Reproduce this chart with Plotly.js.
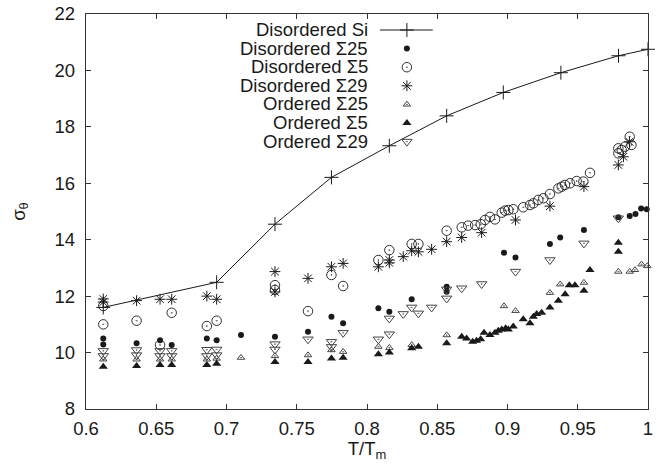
<!DOCTYPE html>
<html>
<head>
<meta charset="utf-8">
<script src="https://cdn.plot.ly/plotly-3.0.1.min.js"></script>
<style>html,body{margin:0;padding:0;background:#fff;}#chart{width:672px;height:470px;}</style>
</head>
<body>
<div id="chart"></div>
<script>
// ---- Data (T/Tm , sigma_theta) ----
const seriesNames = ["Disordered Si", "Disordered \u03a325", "Disordered \u03a35", "Disordered \u03a329", "Ordered \u03a325", "Ordered \u03a35", "Ordered \u03a329"];

const disSiT = [0.6123, 0.693, 0.7345, 0.7747, 0.8159, 0.8567, 0.897, 0.938, 0.979, 1.0];
const disSiS = [11.6, 12.49, 14.55, 16.21, 17.33, 18.39, 19.22, 19.92, 20.52, 20.75];

const dis25T = [0.6123, 0.6123, 0.636, 0.6527, 0.661, 0.686, 0.693, 0.7103, 0.7345, 0.758, 0.7747, 0.783, 0.8081, 0.8159, 0.8318, 0.8567, 0.8567, 0.8975, 0.9057, 0.9302, 0.9375, 0.9544, 0.9789, 0.987, 0.9911, 0.9951, 0.9991];
const dis25S = [10.5, 10.29, 10.33, 10.44, 10.27, 10.5, 10.44, 10.62, 10.56, 10.74, 11.27, 11.04, 11.57, 11.45, 11.89, 12.33, 12.16, 13.54, 13.37, 13.85, 14.08, 14.34, 14.8, 14.84, 14.91, 15.11, 15.08];

const dis5T = [0.6123, 0.6123, 0.636, 0.6527, 0.661, 0.686, 0.693, 0.7345, 0.7345, 0.758, 0.7747, 0.783, 0.8081, 0.8159, 0.8318, 0.8366, 0.8567, 0.8674, 0.872, 0.877, 0.881, 0.884, 0.8875, 0.8911, 0.8959, 0.8982, 0.9006, 0.9041, 0.9112, 0.916, 0.9184, 0.9219, 0.9255, 0.9302, 0.9362, 0.9386, 0.9409, 0.9445, 0.9492, 0.954, 0.9587, 0.9789, 0.9789, 0.9813, 0.9837, 0.987, 0.9882];
const dis5S = [11.65, 11.0, 11.13, 10.27, 11.41, 10.94, 11.13, 12.39, 12.22, 11.47, 12.75, 12.36, 13.28, 13.63, 13.85, 13.85, 14.32, 14.44, 14.5, 14.52, 14.55, 14.7, 14.81, 14.72, 14.96, 15.03, 15.05, 15.08, 15.15, 15.23, 15.29, 15.41, 15.47, 15.62, 15.82, 15.88, 15.94, 16.0, 16.08, 16.06, 16.37, 17.24, 17.06, 17.18, 17.3, 17.65, 17.36];

const dis29T = [0.6123, 0.6123, 0.636, 0.6527, 0.661, 0.686, 0.693, 0.7345, 0.7345, 0.758, 0.7747, 0.783, 0.8081, 0.8159, 0.8159, 0.8258, 0.8318, 0.8366, 0.846, 0.8567, 0.8674, 0.8816, 0.9057, 0.9302, 0.9544, 0.9789, 0.9825, 0.9868];
const dis29S = [11.9, 11.79, 11.84, 11.89, 11.89, 12.0, 11.89, 12.87, 12.15, 12.63, 13.04, 13.16, 13.04, 13.28, 13.18, 13.4, 13.61, 13.57, 13.66, 13.93, 14.08, 14.25, 14.7, 15.19, 15.88, 16.65, 16.94, 17.47];

const ord25T = [0.6123, 0.636, 0.6527, 0.661, 0.686, 0.693, 0.7103, 0.7345, 0.758, 0.7747, 0.783, 0.8081, 0.8159, 0.8318, 0.8567, 0.8975, 0.9057, 0.9302, 0.9375, 0.9544, 0.9789, 0.987, 0.9907, 0.9954, 0.9995];
const ord25S = [9.76, 9.76, 9.76, 9.76, 9.76, 9.79, 9.82, 9.88, 9.91, 10.09, 10.03, 10.21, 10.17, 10.27, 10.62, 11.65, 11.48, 12.12, 12.42, 12.48, 12.87, 12.87, 12.93, 13.13, 13.07];

const ord5T = [0.6123, 0.636, 0.6527, 0.661, 0.686, 0.693, 0.7345, 0.758, 0.7747, 0.783, 0.8081, 0.8159, 0.8318, 0.8366, 0.8567, 0.8674, 0.8709, 0.8752, 0.878, 0.8809, 0.8833, 0.8875, 0.8911, 0.8935, 0.8959, 0.8987, 0.9006, 0.9041, 0.9112, 0.916, 0.9184, 0.9208, 0.9243, 0.9302, 0.9362, 0.941, 0.944, 0.948, 0.9544, 0.9587, 0.9789, 0.9789];
const ord5S = [9.5, 9.52, 9.56, 9.56, 9.56, 9.6, 9.67, 9.67, 9.79, 9.82, 9.94, 10.0, 10.15, 10.21, 10.33, 10.56, 10.5, 10.38, 10.42, 10.47, 10.7, 10.62, 10.7, 10.77, 10.82, 10.86, 10.82, 10.92, 11.18, 11.04, 11.27, 11.37, 11.41, 11.6, 11.84, 12.07, 12.39, 12.39, 12.19, 12.93, 13.89, 13.57];

const ord29T = [0.6123, 0.6123, 0.636, 0.636, 0.6527, 0.6527, 0.661, 0.661, 0.686, 0.686, 0.693, 0.693, 0.7345, 0.7345, 0.758, 0.7747, 0.7747, 0.783, 0.8081, 0.8159, 0.8159, 0.8258, 0.8318, 0.8366, 0.846, 0.8567, 0.8567, 0.8674, 0.8816, 0.9057, 0.9302, 0.9544, 0.9789];
const ord29S = [10.06, 9.88, 10.09, 9.91, 10.06, 9.88, 10.06, 9.88, 10.1, 9.88, 10.11, 9.91, 10.3, 10.11, 10.47, 10.38, 10.2, 10.7, 10.47, 11.21, 10.65, 11.37, 11.6, 11.39, 11.6, 12.24, 11.92, 12.28, 12.43, 12.87, 13.28, 13.87, 14.76];

const xRange = [0.6, 1];
const yRange = [8, 22];

// ---- Styles ----
const ink = "#1a1a1a";
const grayInk = "#444";
const fontFam = "Liberation Sans, Arial, sans-serif";
const fs = 18.5;
const styles = [
  {mode: "lines+markers", marker: {symbol: "cross-thin-open", size: 10, color: ink, line: {color: ink, width: 1}}, line: {color: ink, width: 1}},
  {mode: "markers", marker: {symbol: "circle", size: 6, color: ink}},
  {mode: "markers", marker: {symbol: "circle-open-dot", size: 9.5, color: ink, line: {color: ink, width: 0.9}}},
  {mode: "markers", marker: {symbol: "asterisk-open", size: 9, color: ink, line: {color: ink, width: 1}}},
  {mode: "markers", marker: {symbol: "triangle-up-open-dot", size: 6.5, color: grayInk, line: {color: grayInk, width: 1}}},
  {mode: "markers", marker: {symbol: "triangle-up", size: 8, color: ink}},
  {mode: "markers", marker: {symbol: "triangle-down-open-dot", size: 9, color: grayInk, line: {color: grayInk, width: 1}}}
];
const xs = [disSiT, dis25T, dis5T, dis29T, ord25T, ord5T, ord29T];
const ys = [disSiS, dis25S, dis5S, dis29S, ord25S, ord5S, ord29S];

const traces = [];
for (let i = 0; i < seriesNames.length; i++) {
  traces.push(Object.assign({type: "scatter", x: xs[i], y: ys[i], name: seriesNames[i], showlegend: false, hoverinfo: "skip", cliponaxis: false}, styles[i]));
}

// ---- gnuplot-style key (text right-aligned, sample to its right); positions as fractions of the plot box ----
const keyTextX = 0.506;
const keySampleX = 0.571;
const keyLineX0 = 0.523, keyLineX1 = 0.617;
const keyTop = 0.9595, keyStep = 0.0471;
const fx = f => xRange[0] + f * (xRange[1] - xRange[0]);
const fy = f => yRange[0] + f * (yRange[1] - yRange[0]);
const annotations = [];
for (let i = 0; i < seriesNames.length; i++) {
  const yy = keyTop - i * keyStep;
  annotations.push({xref: "paper", yref: "paper", x: keyTextX, y: yy, xanchor: "right", yanchor: "middle", height: 18, valign: "middle", yshift: 1, text: seriesNames[i], showarrow: false, font: {size: fs, color: ink, family: fontFam}});
  if (i === 0) {
    traces.push({type: "scatter", x: [fx(keyLineX0), fx(keyLineX1)], y: [fy(yy), fy(yy)], mode: "lines", line: {color: ink, width: 1}, showlegend: false, hoverinfo: "skip"});
  }
  traces.push({type: "scatter", x: [fx(keySampleX)], y: [fy(yy)], mode: "markers", marker: styles[i].marker, showlegend: false, hoverinfo: "skip"});
}

const axisCommon = {
  showline: true, mirror: "ticks", linecolor: "#333", linewidth: 1.3,
  ticks: "inside", ticklen: 5, tickwidth: 1, tickcolor: "#333",
  showgrid: false, zeroline: false,
  tickfont: {size: fs, color: ink, family: fontFam}
};

const layout = {
  width: 672, height: 470,
  margin: {l: 86, r: 24, t: 14, b: 61},
  paper_bgcolor: "#fff", plot_bgcolor: "#fff",
  font: {family: fontFam, color: ink, size: fs},
  showlegend: false,
  xaxis: Object.assign({}, axisCommon, {range: xRange, dtick: 0.05, tick0: 0.6, ticklabelstandoff: 2,
    title: {text: "T/T<sub>m</sub>", font: {size: fs}, standoff: 4}}),
  yaxis: Object.assign({}, axisCommon, {range: yRange, dtick: 2, tick0: 8, ticklabelstandoff: 6,
    title: {text: "\u03c3<sub>\u03b8</sub>", font: {size: fs}, standoff: 24}}),
  annotations: annotations
};

Plotly.newPlot("chart", traces, layout, {displayModeBar: false, staticPlot: true});
</script>
</body>
</html>
